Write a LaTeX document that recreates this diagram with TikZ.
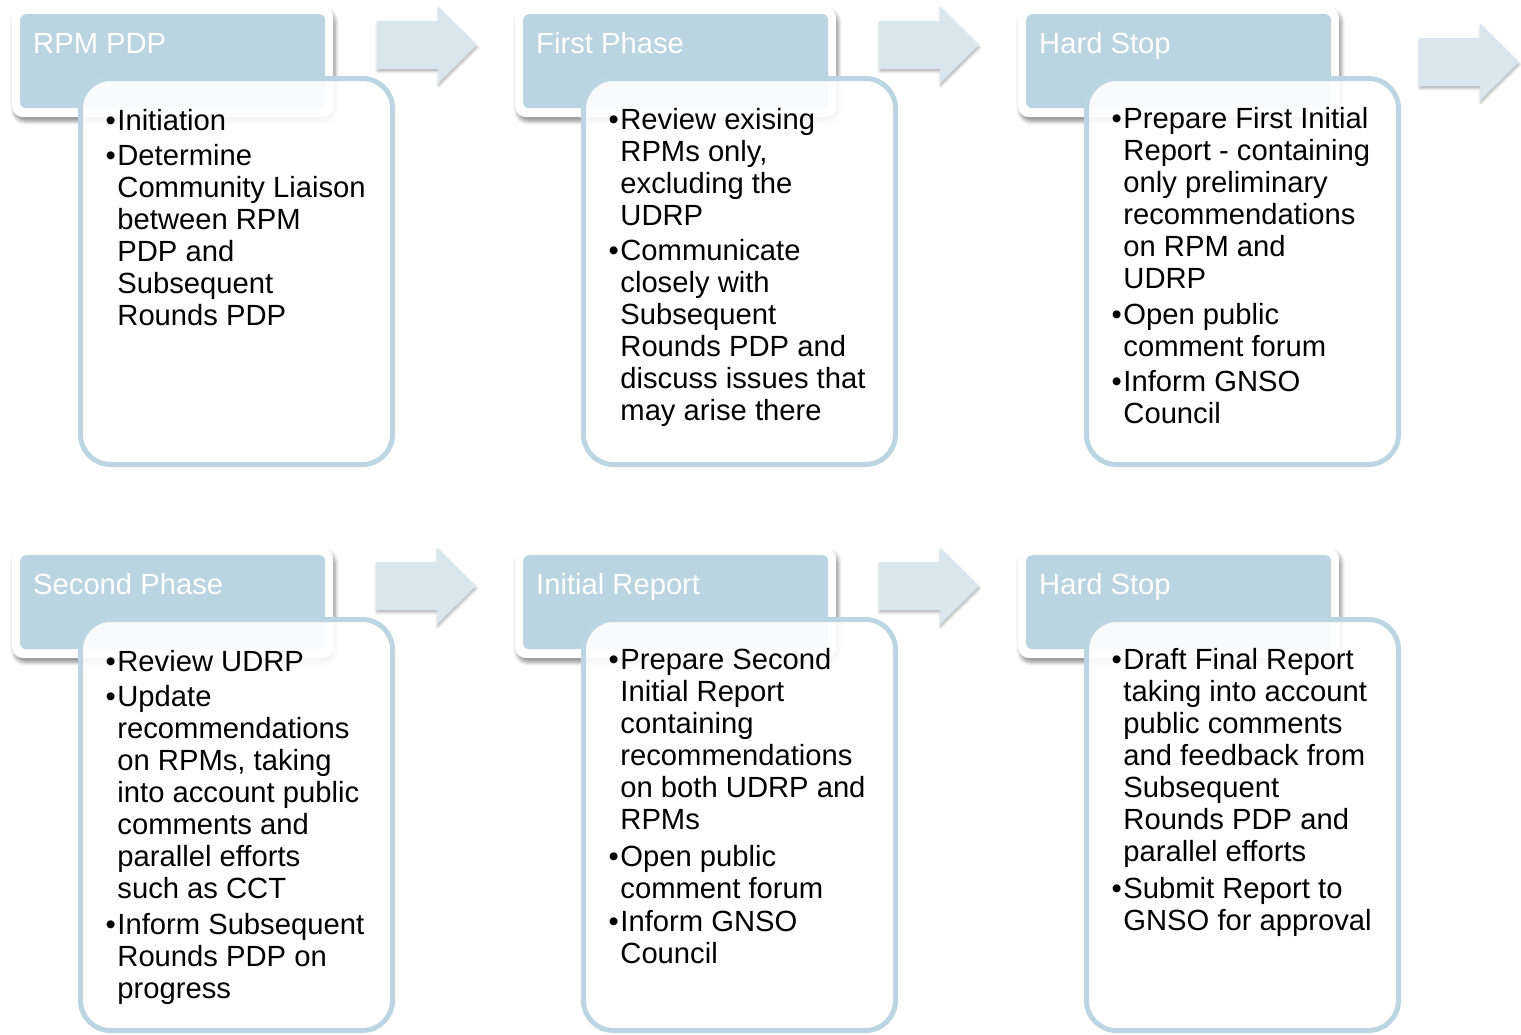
\documentclass[tikz,border=0pt]{standalone}
\usepackage{fontspec}
\setmainfont{Liberation Sans}
\usetikzlibrary{shadows,shadows.blur}
\definecolor{tblue}{HTML}{BBD4E1}
\definecolor{bborder}{HTML}{BCD5E2}
\definecolor{afill}{HTML}{DAE6ED}
\newcommand{\bul}[1]{\textbullet\hspace{1.5pt}\begin{tabular}[t]{@{}l@{}}#1\end{tabular}}
\tikzset{
  outerbox/.style={fill=white, rounded corners=11pt, minimum width=321pt, minimum height=110pt, inner sep=0pt,
    blur shadow={shadow xshift=2pt, shadow yshift=-4pt, shadow blur radius=4pt, shadow opacity=45}},
  innerbox/.style={fill=tblue, rounded corners=6pt, minimum width=305pt, minimum height=94pt, inner sep=0pt},
  titletext/.style={text=white, font=\fontsize{29.2}{32}\selectfont, inner sep=0pt, anchor=base west},
  bodybox/.style={draw=bborder, line width=5pt, fill=white, fill opacity=0.9, rounded corners=30pt,
    minimum width=312pt, inner sep=0pt, anchor=north west},
  bodytext/.style={text=black, font=\fontsize{29.2}{32}\selectfont, inner sep=0pt, anchor=base west},
  arrowshape/.style={fill=afill,
    blur shadow={shadow xshift=0.5pt, shadow yshift=-2.5pt, shadow blur radius=2.5pt, shadow opacity=30}},
}
\newcommand{\mytitle}[4]{%
  \node[outerbox, anchor=north west] (#1o) at (#2,#3) {};
  \node[innerbox, anchor=north west] (#1) at (#2+8,#3+7) {};
  \node[titletext] (#1t) at (#2+21,#3+46) {#4};
}
\newcommand{\blockarrow}[2]{%
  \fill[arrowshape] (#1,#2-24) -- (#1+61,#2-24) -- (#1+61,#2-38.5) -- (#1+100,#2)
    -- (#1+61,#2+38.5) -- (#1+61,#2+24) -- (#1,#2+24) -- cycle;
}
\begin{document}
\begin{tikzpicture}[x=1pt, y=-1pt]
\useasboundingbox (0,0) rectangle (1521,1034);
% titles
\mytitle{ta}{12}{7}{RPM PDP}
\mytitle{tb}{515}{7}{First Phase}
\mytitle{tc}{1018}{7}{Hard Stop}
\mytitle{td}{12}{548}{Second Phase}
\mytitle{te}{515}{548}{Initial Report}
\mytitle{tf}{1018}{548}{Hard Stop}
% arrows
\blockarrow{377}{45}
\blockarrow{879}{45}
\blockarrow{1419}{62}
\blockarrow{376}{586}
\blockarrow{879}{586}
% bodies
\node[bodybox, minimum height=386pt] (ba) at (78,76) {};
\node[bodybox, minimum height=386pt] (bb) at (581,76) {};
\node[bodybox, minimum height=386pt] (bc) at (1084,76) {};
\node[bodybox, minimum height=411pt] (bd) at (78,617) {};
\node[bodybox, minimum height=411pt] (be) at (581,617) {};
\node[bodybox, minimum height=411pt] (bf) at (1084,617) {};
% texts box a
\node[bodytext] (a1) at (105.5,130) {\bul{Initiation}};
\node[bodytext] (a2) at (105.5,165) {\bul{Determine\\Community Liaison\\between RPM\\PDP and\\Subsequent\\Rounds PDP}};
% box b
\node[bodytext] (b1) at (608.5,129) {\bul{Review exising\\RPMs only,\\excluding the\\UDRP}};
\node[bodytext] (b2) at (608.5,260) {\bul{Communicate\\closely with\\Subsequent\\Rounds PDP and\\discuss issues that\\may arise there}};
% box c
\node[bodytext] (c1) at (1111.5,128) {\bul{Prepare First Initial\\Report - containing\\only preliminary\\recommendations\\on RPM and\\UDRP}};
\node[bodytext] (c2) at (1111.5,324) {\bul{Open public\\comment forum}};
\node[bodytext] (c3) at (1111.5,391) {\bul{Inform GNSO\\Council}};
% box d
\node[bodytext] (d1) at (105.5,671) {\bul{Review UDRP}};
\node[bodytext] (d2) at (105.5,706) {\bul{Update\\recommendations\\on RPMs, taking\\into account public\\comments and\\parallel efforts\\such as CCT}};
\node[bodytext] (d3) at (105.5,934) {\bul{Inform Subsequent\\Rounds PDP on\\progress}};
% box e
\node[bodytext] (e1) at (608.5,669) {\bul{Prepare Second\\Initial Report\\containing\\recommendations\\on both UDRP and\\RPMs}};
\node[bodytext] (e2) at (608.5,866) {\bul{Open public\\comment forum}};
\node[bodytext] (e3) at (608.5,931) {\bul{Inform GNSO\\Council}};
% box f
\node[bodytext] (f1) at (1111.5,669) {\bul{Draft Final Report\\taking into account\\public comments\\and feedback from\\Subsequent\\Rounds PDP and\\parallel efforts}};
\node[bodytext] (f2) at (1111.5,898) {\bul{Submit Report to\\GNSO for approval}};
\end{tikzpicture}
\end{document}
